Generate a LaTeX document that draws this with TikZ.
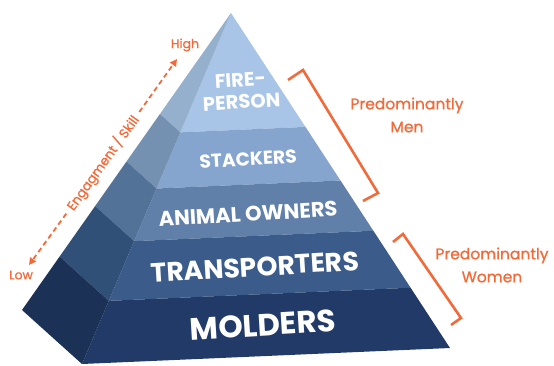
\documentclass[tikz,border=0pt]{standalone}
\usepackage{fontspec}
\setmainfont{Poppins}
\newfontfamily\medfont{Poppins}[FakeBold=0.9]
\usetikzlibrary{calc,arrows.meta}

\definecolor{accent}{HTML}{F26A3A}
% front face, top to bottom
\definecolor{fa}{HTML}{A8C4E6}
\definecolor{fb}{HTML}{85A5CE}
\definecolor{fc}{HTML}{6080A9}
\definecolor{fd}{HTML}{3B5C8A}
\definecolor{fe}{HTML}{213A67}
% shaded side face, top to bottom
\definecolor{sa}{HTML}{94B0CD}
\definecolor{sb}{HTML}{7491B2}
\definecolor{sc}{HTML}{527298}
\definecolor{sd}{HTML}{305078}
\definecolor{se}{HTML}{1C3156}

\tikzset{
  tier/.style={text=white, rotate=3.5, inner sep=0pt, align=center},
  note/.style={text=accent, align=center, inner sep=0pt},
  bracket/.style={draw=accent, line width=2.6pt, line join=miter},
}

\begin{document}
\begin{tikzpicture}[x=1pt, y=-1pt]
\useasboundingbox (0,0) rectangle (554,365);

% pyramid corners: apex, back-left, front-left, front-right
\coordinate (A) at (231,13);
\coordinate (L) at (22,310);
\coordinate (F) at (82,364);
\coordinate (R) at (450,348);

% tier boundaries along the three edges
\foreach \t [count=\i] in {0,0.34,0.50,0.65,0.82,1} {
  \coordinate (f\i) at ($(A)!\t!(F)$);
  \coordinate (r\i) at ($(A)!\t!(R)$);
  \coordinate (l\i) at ($(A)!\t!(L)$);
}

% front face
\fill[fa] (f1) -- (r2) -- (f2) -- cycle;
\fill[fb] (f2) -- (r2) -- (r3) -- (f3) -- cycle;
\fill[fc] (f3) -- (r3) -- (r4) -- (f4) -- cycle;
\fill[fd] (f4) -- (r4) -- (r5) -- (f5) -- cycle;
\fill[fe] (f5) -- (r5) -- (r6) -- (f6) -- cycle;

% side face
\fill[sa] (l1) -- (f2) -- (l2) -- cycle;
\fill[sb] (l2) -- (f2) -- (f3) -- (l3) -- cycle;
\fill[sc] (l3) -- (f3) -- (f4) -- (l4) -- cycle;
\fill[sd] (l4) -- (f4) -- (f5) -- (l5) -- cycle;
\fill[se] (l5) -- (f5) -- (f6) -- (l6) -- cycle;

% tier labels
\node[tier, font=\bfseries\fontsize{19.5}{22}\selectfont] (fire) at (241,91) {FIRE-\\PERSON};
\node[tier, font=\bfseries\fontsize{18.7}{20}\selectfont] (stack) at (248,159) {STACKERS};
\node[tier, font=\bfseries\fontsize{21}{24}\selectfont] (animal) at (248,214) {ANIMAL OWNERS};
\node[tier, font=\bfseries\fontsize{26.7}{30}\selectfont] (trans) at (255,267) {TRANSPORTERS};
\node[tier, font=\bfseries\fontsize{31}{34}\selectfont] (mold) at (263,325) {MOLDERS};

% engagement axis
\coordinate (low) at (29,265);
\coordinate (high) at (177,59);
\node[note, rotate=54.3, inner sep=6pt, font=\medfont\fontsize{13}{15}\selectfont] (axis) at (103,163) {Engagment / Skill};
\draw[accent, line width=1.8pt, dash pattern=on 5pt off 3.5pt, -{Triangle[length=7pt,width=7pt]}] (axis) -- (high);
\draw[accent, line width=1.8pt, dash pattern=on 5pt off 3.5pt, -{Triangle[length=7pt,width=7pt]}] (axis) -- (low);
\node[note, font=\medfont\fontsize{12.5}{14}\selectfont] (hi) at (185,45) {High};
\node[note, font=\medfont\fontsize{12.5}{14}\selectfont] (lo) at (21,275) {Low};

% group brackets
\coordinate (m1) at (288,80);
\coordinate (m2) at (303,70);
\coordinate (m3) at (378,193);
\coordinate (m4) at (363,201);
\draw[bracket] (m1) -- (m2) -- (m3) -- (m4);
\coordinate (w1) at (393,242);
\coordinate (w2) at (403,234);
\coordinate (w3) at (461,318);
\coordinate (w4) at (451,325);
\draw[bracket] (w1) -- (w2) -- (w3) -- (w4);

\node[note, font=\medfont\fontsize{15.5}{23}\selectfont] (men) at (407,115) {Predominantly\\Men};
\node[note, font=\medfont\fontsize{15.5}{23}\selectfont] (women) at (492,265) {Predominantly\\Women};
\end{tikzpicture}
\end{document}
